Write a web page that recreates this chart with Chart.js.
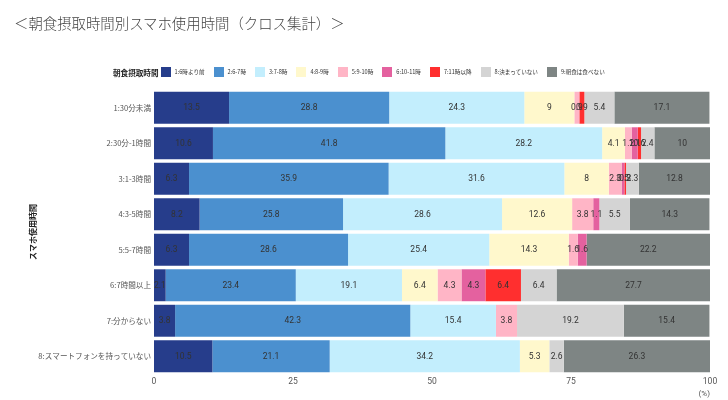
<!DOCTYPE html>
<html>
<head>
<meta charset="utf-8">
<script src="https://cdn.jsdelivr.net/npm/chart.js@4.4.1/dist/chart.umd.min.js"></script>
<style>
  body { margin: 0; background: #fff; }
  #wrap { position: relative; width: 728px; height: 400px; overflow: hidden; }
  #c { position: absolute; left: 0; top: 0; }
  #title {
    position: absolute; left: 14px; top: 12px;
    font-family: "Noto Sans CJK JP", sans-serif; font-size: 14.4px; color: #444;
    white-space: nowrap; font-weight: 300;
  }
  #legend {
    position: absolute; left: 113px; top: 66px; height: 12px;
    display: flex; align-items: center;
    font-family: "Noto Sans CJK JP", sans-serif; font-size: 5.6px; color: #333;
    white-space: nowrap;
  }
  #legend .ttl { font-weight: bold; font-size: 7.6px; color: #222; margin-right: 2px; }
  #legend .box { width: 10px; height: 10px; margin-right: 4px; }
  #legend .txt { margin-right: 9px; }
</style>
</head>
<body>
<div id="wrap">
  <canvas id="c" width="728" height="400"></canvas>
  <div id="title">＜朝食摂取時間別スマホ使用時間（クロス集計）＞</div>
  <div id="legend"></div>
</div>
<script>
const categories = [
  "1:30分未満", "2:30分-1時間", "3:1-3時間", "4:3-5時間",
  "5:5-7時間", "6:7時間以上", "7:分からない", "8:スマートフォンを持っていない"
];
const seriesNames = [
  "1:6時より前", "2:6-7時", "3:7-8時", "4:8-9時", "5:9-10時",
  "6:10-11時", "7:11時以降", "8:決まっていない", "9:朝食は食べない"
];
const before6 = [13.5, 10.6, 6.3, 8.2, 6.3, 2.1, 3.8, 10.5];
const h6to7 = [28.8, 41.8, 35.9, 25.8, 28.6, 23.4, 42.3, 21.1];
const h7to8 = [24.3, 28.2, 31.6, 28.6, 25.4, 19.1, 15.4, 34.2];
const h8to9 = [9, 4.1, 8, 12.6, 14.3, 6.4, 0, 5.3];
const h9to10 = [0.9, 1.2, 2.3, 3.8, 1.6, 4.3, 3.8, 0];
const h10to11 = [0, 1.1, 0.5, 1.1, 1.6, 4.3, 0, 0];
const after11 = [0.9, 0.6, 0.3, 0, 0, 6.4, 0, 0];
const notFixed = [5.4, 2.4, 2.3, 5.5, 0, 6.4, 19.2, 2.6];
const noBreakfast = [17.1, 10, 12.8, 14.3, 22.2, 27.7, 15.4, 26.3];
const xTicks = [0, 25, 50, 75, 100];

const colors = ["#263d8b", "#4b90cf", "#c3eefd", "#fff8cc", "#ffb5c6",
                "#e4619f", "#ff2f2f", "#d4d4d4", "#7e8584"];
const series = [before6, h6to7, h7to8, h8to9, h9to10, h10to11, after11, notFixed, noBreakfast];

const CJK = '"Noto Sans CJK JP", sans-serif';

// values written in the middle of each segment
const segLabels = {
  id: 'segLabels',
  afterDatasetsDraw(chart) {
    const ctx = chart.ctx;
    ctx.save();
    ctx.font = '8.5px Roboto, sans-serif';
    ctx.fillStyle = '#333';
    ctx.textAlign = 'center';
    ctx.textBaseline = 'middle';
    chart.data.datasets.forEach((ds, i) => {
      chart.getDatasetMeta(i).data.forEach((bar, j) => {
        const v = ds.data[j];
        if (!v) return;
        const p = bar.getCenterPoint();
        ctx.fillText(String(v), p.x, p.y + 0.5);
      });
    });
    ctx.restore();
  }
};

const chart = new Chart(document.getElementById('c'), {
  type: 'bar',
  data: {
    labels: categories,
    datasets: series.map((d, i) => ({
      label: seriesNames[i],
      data: d,
      backgroundColor: colors[i],
      borderWidth: 0,
      barPercentage: 0.9,
      categoryPercentage: 1.0
    }))
  },
  options: {
    indexAxis: 'y',
    responsive: false,
    animation: false,
    layout: { padding: { top: 90, left: 28, right: 18, bottom: 0 } },
    plugins: {
      legend: { display: false },
      tooltip: { enabled: false }
    },
    scales: {
      x: {
        stacked: true,
        min: 0, max: 100,
        afterBuildTicks: s => { s.ticks = xTicks.map(v => ({ value: v })); },
        afterFit: s => { s.height = 26; },
        grid: { display: false, drawTicks: false },
        border: { display: false },
        ticks: { padding: 3, color: '#555', font: { size: 8.5, family: 'Roboto' } },
        title: {
          display: true, text: '(%)', align: 'end', color: '#555',
          font: { size: 8, family: 'Roboto' }, padding: { top: 0, bottom: 1 }
        }
      },
      y: {
        stacked: true,
        afterFit: s => { s.width = 154 - 28; },
        grid: { display: false, drawTicks: false },
        border: { display: false },
        ticks: { padding: 3, color: '#555', font: { size: 7.6, family: CJK } },
        title: {
          display: true, text: 'スマホ使用時間', color: '#222',
          font: { size: 8, family: CJK, weight: 'bold' }, padding: 0
        }
      }
    }
  },
  plugins: [segLabels]
});

// legend with the title on the same line
const legend = document.getElementById('legend');
legend.innerHTML = '<span class="ttl">朝食摂取時間</span>' +
  chart.data.datasets.map(ds =>
    `<span class="box" style="background:${ds.backgroundColor}"></span><span class="txt">${ds.label}</span>`
  ).join('');
</script>
</body>
</html>
